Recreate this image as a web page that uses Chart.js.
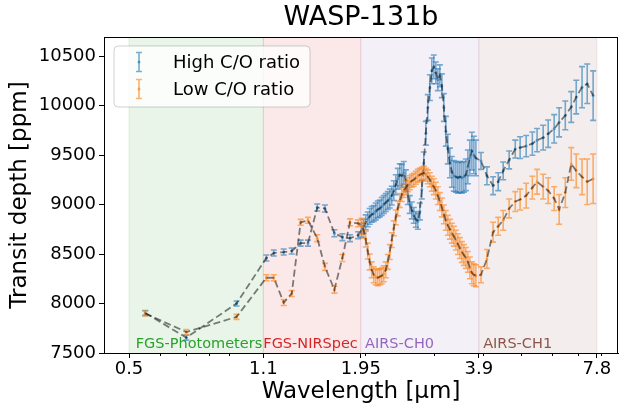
<!DOCTYPE html>
<html>
<head>
<meta charset="utf-8">
<script src="https://cdn.jsdelivr.net/npm/chart.js@4"></script>
<style>
  body { margin: 0; background: #fff; }
  #wrap { width: 619px; height: 409px; }
</style>
</head>
<body>
<div id="wrap"><canvas id="spectrumChart"></canvas></div>
<script>
// wavelengths in micron: photometers, NIRSpec, AIRS-CH0, AIRS-CH1
const wavelength = [
  0.55, 0.70, 0.94,
  1.12, 1.17, 1.24, 1.30, 1.37, 1.43, 1.51, 1.58, 1.67, 1.75, 1.83, 1.92,
  1.960, 1.983, 2.007, 2.031, 2.055, 2.079, 2.104, 2.129, 2.154, 2.180,
  2.205, 2.231, 2.258, 2.285, 2.312, 2.339, 2.367, 2.395, 2.423, 2.452,
  2.481, 2.510, 2.540, 2.570, 2.600, 2.631, 2.662, 2.694, 2.726, 2.758,
  2.790, 2.823, 2.857, 2.890, 2.925, 2.959, 2.994, 3.030, 3.066, 3.102,
  3.139, 3.176, 3.213, 3.251, 3.290, 3.329, 3.368, 3.408, 3.448, 3.489,
  3.530, 3.572, 3.614, 3.657, 3.700, 3.744, 3.788, 3.833,
  3.95, 4.09, 4.24, 4.37, 4.50, 4.66, 4.83, 4.97, 5.15, 5.34, 5.49,
  5.69, 5.86, 6.07, 6.25, 6.48, 6.71, 6.91, 7.15, 7.37, 7.63
];

const highCO = [
  7905, 7655, 8000,
  8460, 8510, 8520, 8530, 8610, 8610, 8970, 8960, 8710, 8670, 8660, 8690,
  8740, 8780, 8820, 8850, 8880, 8900, 8910, 8930, 8950, 8960,
  8980, 9000, 9020, 9040, 9060, 9090, 9140, 9200, 9260, 9300,
  9290, 9320, 9240, 9100, 9000, 8940, 8890, 8850, 8830, 8930,
  9150, 9420, 9720, 9980, 10180, 10350, 10390, 10330, 10260, 10300,
  10200, 9980, 9740, 9560, 9420, 9330, 9290, 9280, 9270, 9280,
  9270, 9280, 9300, 9380, 9470, 9540, 9500, 9470,
  9440, 9290, 9190, 9230, 9340, 9450, 9560, 9575, 9590, 9615, 9650,
  9675, 9715, 9765, 9830, 9900, 9985, 10085, 10185, 10220, 10100
];
const highErr = [
  25, 25, 25,
  30, 30, 30, 30, 30, 30, 35, 35, 35, 35, 35, 35,
  70, 70, 75, 75, 80, 80, 80, 85, 85, 85,
  90, 90, 90, 90, 95, 95, 100, 100, 105, 110,
  115, 115, 110, 100, 90, 85, 80, 80, 80, 85,
  95, 110, 120, 130, 130, 130, 120, 110, 110, 110,
  120, 140, 150, 150, 150, 155, 155, 155, 155, 155,
  155, 155, 160, 170, 180, 190, 190, 180,
  85, 90, 90, 90, 90, 90, 90, 110, 107, 117, 117,
  125, 138, 143, 147, 145, 155, 170, 208, 200, 250
];

const lowCO = [
  7900, 7712, 7865,
  8260, 8260, 8010, 8100, 8820, 8840, 8660, 8370, 8140, 8460, 8820, 8810,
  8780, 8740, 8650, 8530, 8420, 8340, 8290, 8270, 8260, 8270,
  8280, 8300, 8340, 8420, 8520, 8640, 8760, 8870, 8960, 9040,
  9100, 9140, 9170, 9200, 9220, 9240, 9250, 9270, 9290, 9300,
  9310, 9320, 9300, 9280, 9250, 9210, 9180, 9140, 9090, 9030,
  8970, 8900, 8840, 8790, 8750, 8710, 8680, 8640, 8600, 8560,
  8520, 8490, 8460, 8420, 8360, 8310, 8290, 8280,
  8290, 8450, 8720, 8780, 8840, 8960, 9030, 9050, 9090, 9170, 9230,
  9180, 9140, 9060, 8950, 9120, 9410, 9340, 9280, 9230, 9260
];
const lowErr = [
  25, 25, 25,
  30, 30, 30, 30, 30, 30, 35, 35, 35, 35, 35, 35,
  80, 80, 80, 80, 80, 80, 80, 80, 80, 80,
  80, 80, 80, 75, 75, 75, 75, 75, 75, 70,
  70, 70, 70, 70, 70, 65, 65, 65, 65, 65,
  65, 65, 65, 70, 70, 75, 80, 85, 90, 90,
  95, 95, 100, 100, 100, 100, 100, 100, 105, 105,
  105, 105, 105, 105, 110, 110, 110, 110,
  80, 95, 100, 90, 100, 95, 100, 105, 125, 115, 125,
  125, 130, 120, 150, 150, 165, 170, 180, 230, 250
];

const bandNames = ['FGS-Photometers', 'FGS-NIRSpec', 'AIRS-CH0', 'AIRS-CH1'];
const bandEdges = [0.5, 1.1, 1.95, 3.9, 7.8];
const bandLabelAt = [0.52, 1.1, 2.0, 4.0];
const bandRGB = ['44,160,44', '214,39,40', '148,103,189', '140,86,75'];

const xTicks = [0.5, 1.1, 1.95, 3.9, 7.8];
const xMinorTicks = [0.6, 0.7, 0.8, 0.9, 2, 3, 4, 5, 6, 7, 8];
const yTicks = [7500, 8000, 8500, 9000, 9500, 10000, 10500];

const FONT = "'DejaVu Sans', sans-serif";
const BLUE = 'rgba(31,119,180,0.6)';
const ORANGE = 'rgba(255,127,14,0.6)';
const errs = [highErr, lowErr];
const errColors = [BLUE, ORANGE];

function errorGlyph(ctx, x, y, top, bottom, color) {
  ctx.strokeStyle = color;
  ctx.fillStyle = color;
  ctx.lineWidth = 1.6;
  ctx.beginPath();
  ctx.moveTo(x, top); ctx.lineTo(x, bottom);
  ctx.moveTo(x - 3, top); ctx.lineTo(x + 3, top);
  ctx.moveTo(x - 3, bottom); ctx.lineTo(x + 3, bottom);
  ctx.stroke();
  ctx.beginPath();
  ctx.arc(x, y, 1.5, 0, Math.PI * 2);
  ctx.fill();
}

const decor = {
  id: 'decor',
  beforeDatasetsDraw(chart) {
    const {ctx, chartArea: a, scales: {x}} = chart;
    ctx.save();
    for (let i = 0; i < bandNames.length; i++) {
      const x0 = x.getPixelForValue(bandEdges[i]);
      const x1 = x.getPixelForValue(bandEdges[i + 1]);
      ctx.fillStyle = 'rgba(' + bandRGB[i] + ',0.1)';
      ctx.fillRect(x0, a.top, x1 - x0, a.bottom - a.top);
      ctx.strokeStyle = 'rgba(' + bandRGB[i] + ',0.12)';
      ctx.lineWidth = 1;
      ctx.beginPath();
      ctx.moveTo(x0, a.top); ctx.lineTo(x0, a.bottom);
      ctx.moveTo(x1, a.top); ctx.lineTo(x1, a.bottom);
      ctx.stroke();
    }
    ctx.font = '14.5px ' + FONT;
    ctx.textBaseline = 'alphabetic';
    ctx.textAlign = 'left';
    bandNames.forEach((name, i) => {
      ctx.fillStyle = 'rgb(' + bandRGB[i] + ')';
      ctx.fillText(name, x.getPixelForValue(bandLabelAt[i]), a.bottom - 5);
    });
    ctx.restore();
  },
  beforeDatasetDraw(chart, args) {
    const {ctx, scales: {y}} = chart;
    const k = args.index;
    const ds = chart.data.datasets[k];
    ctx.save();
    args.meta.data.forEach((pt, i) => {
      const v = ds.data[i].y, e = errs[k][i];
      errorGlyph(ctx, pt.x, pt.y, y.getPixelForValue(v + e), y.getPixelForValue(v - e), errColors[k]);
    });
    ctx.restore();
  },
  afterDraw(chart) {
    const {ctx, chartArea: a, scales: {x}} = chart;
    ctx.save();
    // top and right spines
    ctx.strokeStyle = '#000';
    ctx.lineWidth = 1;
    ctx.beginPath();
    ctx.moveTo(a.left, a.top + 0.5); ctx.lineTo(a.right, a.top + 0.5);
    ctx.moveTo(a.right - 0.5, a.top); ctx.lineTo(a.right - 0.5, a.bottom);
    // minor ticks
    xMinorTicks.forEach(v => {
      const px = Math.round(x.getPixelForValue(v)) + 0.5;
      ctx.moveTo(px, a.bottom); ctx.lineTo(px, a.bottom + 3);
    });
    ctx.stroke();

    // title
    ctx.fillStyle = '#000';
    ctx.font = '27px ' + FONT;
    ctx.textAlign = 'center';
    ctx.textBaseline = 'middle';
    ctx.fillText('WASP-131b', (a.left + a.right) / 2, 18);

    // legend
    const lx = 114, ly = 46, lw = 196, lh = 61;
    ctx.beginPath();
    ctx.roundRect(lx, ly, lw, lh, 4);
    ctx.fillStyle = 'rgba(255,255,255,0.8)';
    ctx.fill();
    ctx.strokeStyle = 'rgba(0,0,0,0.18)';
    ctx.stroke();
    const labels = ['High C/O ratio', 'Low C/O ratio'];
    ctx.font = '18px ' + FONT;
    ctx.textAlign = 'left';
    labels.forEach((t, i) => {
      const cy = 62 + i * 27;
      errorGlyph(ctx, 139, cy, cy - 9.5, cy + 9.5, errColors[i]);
      ctx.fillStyle = '#000';
      ctx.fillText(t, 173, cy + 1);
    });
    ctx.restore();
  }
};

const lineStyle = {
  showLine: true,
  borderColor: 'rgba(0,0,0,0.5)',
  borderWidth: 1.8,
  borderDash: [7, 3.5],
  pointRadius: 0,
  tension: 0
};

const ctx = document.getElementById('spectrumChart').getContext('2d');
const spectrumChart = new Chart(ctx, {
  type: 'scatter',
  data: {
    datasets: [
      Object.assign({label: 'High C/O ratio', order: 2,
        data: wavelength.map((w, i) => ({x: w, y: highCO[i]}))}, lineStyle),
      Object.assign({label: 'Low C/O ratio', order: 1,
        data: wavelength.map((w, i) => ({x: w, y: lowCO[i]}))}, lineStyle)
    ]
  },
  options: {
    responsive: true,
    maintainAspectRatio: false,
    animation: false,
    layout: {padding: {left: 0, right: 1, top: 37, bottom: 0}},
    plugins: {legend: {display: false}, tooltip: {enabled: false}},
    scales: {
      x: {
        type: 'logarithmic',
        min: 0.4317,
        max: 8.83,
        afterBuildTicks: s => { s.ticks = xTicks.map(v => ({value: v})); },
        afterFit: s => { s.height = 56; },
        ticks: {
          callback: v => String(v),
          color: '#000',
          font: {family: FONT, size: 18},
          padding: 1,
          maxRotation: 0,
          autoSkip: false
        },
        grid: {drawOnChartArea: false, drawTicks: true, tickLength: 5, color: '#000'},
        border: {display: true, color: '#000', width: 1},
        title: {display: true, text: 'Wavelength [μm]', color: '#000',
          font: {family: FONT, size: 23}, padding: {top: 0, bottom: 3}}
      },
      y: {
        type: 'linear',
        min: 7500,
        max: 10692,
        afterBuildTicks: s => { s.ticks = yTicks.map(v => ({value: v})); },
        afterFit: s => { s.width = 104; },
        ticks: {
          callback: v => String(v),
          color: '#000',
          font: {family: FONT, size: 18},
          padding: 3
        },
        grid: {drawOnChartArea: false, drawTicks: true, tickLength: 5, color: '#000'},
        border: {display: true, color: '#000', width: 1},
        title: {display: true, text: 'Transit depth [ppm]', color: '#000',
          font: {family: FONT, size: 23}, padding: {top: 6, bottom: 0}}
      }
    }
  },
  plugins: [decor]
});
</script>
</body>
</html>
